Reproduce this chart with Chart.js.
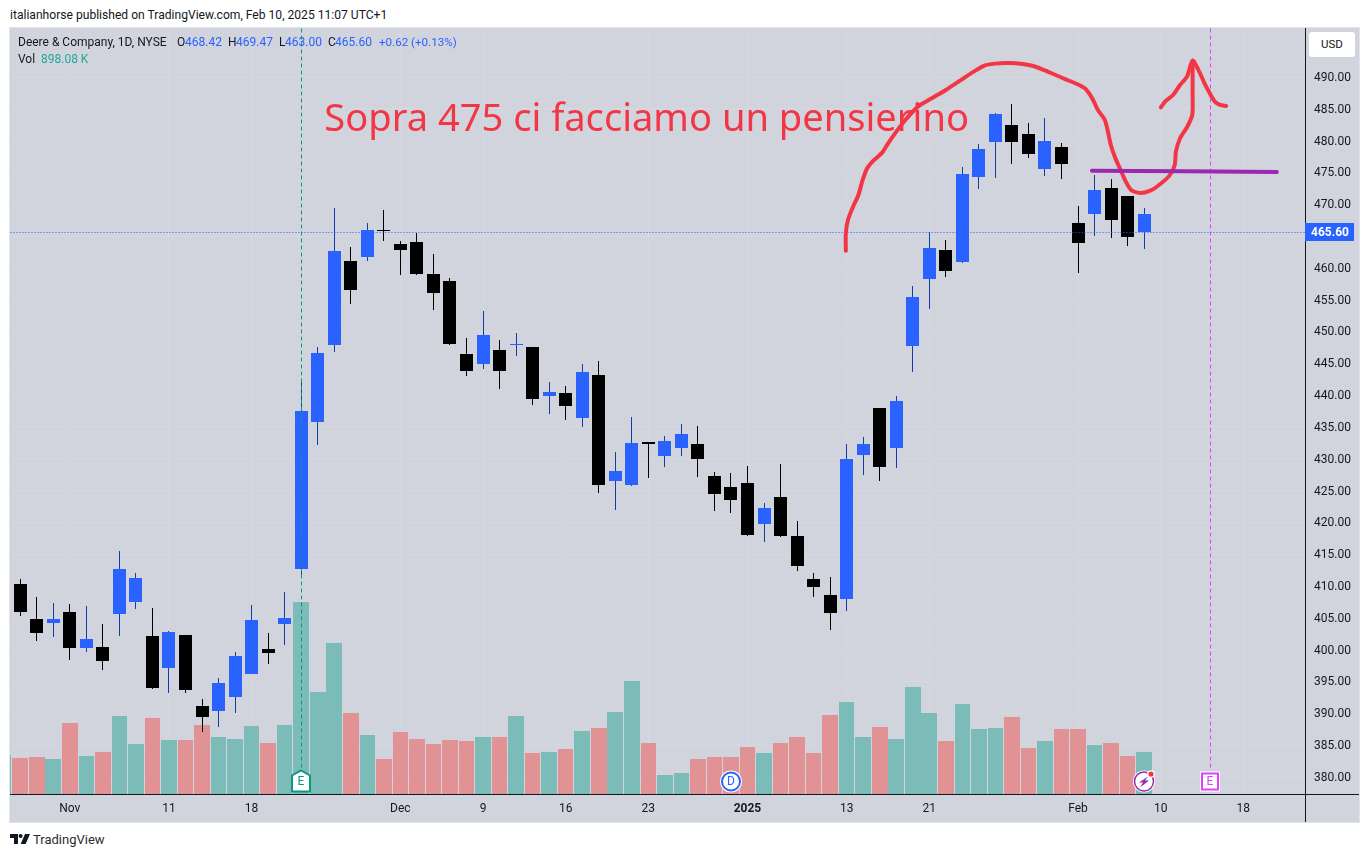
<!DOCTYPE html>
<html lang="en">
<head>
  <meta charset="UTF-8" />
  <title>Deere &amp; Company 1D</title>
  <script src="https://cdn.jsdelivr.net/npm/chart.js"></script>
  <style>
    body {
      margin: 0;
      background: #fff;
      color: #131722;
      font-family: Roboto, 'Noto Sans', sans-serif;
      font-size: 12px;
      width: 1369px;
      height: 857px;
      overflow: hidden;
      position: relative;
    }
    #published { position: absolute; left: 10px; top: 8px; font-size: 12.1px; white-space: nowrap; }
    #frame { position: absolute; left: 9px; top: 27px; width: 1349px; height: 794px; border: 1px solid #e0e3eb; }
    #marketChart { display: block; }
    .legend { position: absolute; white-space: nowrap; font-size: 12px; line-height: 14px; }
    .legend.val { color: #2962ff; }
    #usd {
      position: absolute; left: 1309px; top: 32px; width: 46px; height: 25px;
      background: #fff; border-radius: 3px; text-align: center; line-height: 25px; font-size: 11.5px;
    }
    #logo { position: absolute; left: 10px; top: 834px; }
    #brand { position: absolute; left: 33px; top: 832px; font-size: 13px; color: #2e2e2e; }
  </style>
</head>
<body>
  <div id="published">italianhorse published on TradingView.com, Feb 10, 2025 11:07 UTC+1</div>
  <div id="frame"><canvas id="marketChart" width="1349" height="794"></canvas></div>

  <span class="legend" style="left:18px;top:35px">Deere &amp; Company, 1D, NYSE</span>
  <span class="legend" style="left:177px;top:35px">O</span><span class="legend val" style="left:185px;top:35px">468.42</span>
  <span class="legend" style="left:228px;top:35px">H</span><span class="legend val" style="left:236px;top:35px">469.47</span>
  <span class="legend" style="left:279px;top:35px">L</span><span class="legend val" style="left:285px;top:35px">463.00</span>
  <span class="legend" style="left:328px;top:35px">C</span><span class="legend val" style="left:335px;top:35px">465.60</span>
  <span class="legend val" style="left:379px;top:35px;font-size:11.6px">+0.62 (+0.13%)</span>
  <span class="legend" style="left:18px;top:52px">Vol</span>
  <span class="legend" style="left:41px;top:52px;color:#26a69a">898.08 K</span>

  <div id="usd">USD</div>

  <svg id="logo" width="20" height="10" viewBox="0 0 20 10">
    <path d="M0 0h8v10H4V4H0z" fill="#131722" />
    <circle cx="10.6" cy="2" r="2" fill="#131722" />
    <path d="M15 0h5l-4.4 10h-5z" fill="#131722" />
  </svg>
  <div id="brand">TradingView</div>

  <script>
    // daily candles, first one sits just off the left edge of the pane
    const open = [410.9, 405.95, 402.65, 404.80, 400.29, 401.65, 398.25, 412.66, 411.25, 394.00, 402.75, 393.69, 389.44, 394.74, 398.98, 404.64, 399.45, 404.96,
      437.50, 446.62, 462.66, 456.53, 465.96, 465.85, 462.80, 459.04, 456.05, 448.04, 443.84, 449.45, 443.84, 448.03, 439.39, 440.49, 438.28, 443.63, 425.86, 428.07, 432.47,
      432.31, 432.78, 433.88, 429.95, 424.45, 423.51, 418.00, 422.25, 417.84, 413.13, 409.83, 405.74, 429.95, 432.31, 428.69, 439.07, 455.42, 463.13, 459.57, 474.77, 478.70,
      484.20, 479.85, 477.97, 479.96, 476.39, 463.97, 472.25, 467.54, 464.91, 468.42];
    const high = [411.6, 411.09, 408.26, 407.31, 407.16, 406.84, 404.01, 415.49, 412.03, 406.48, 402.91, 402.28, 392.22, 395.52, 399.61, 407.00, 402.60, 409.04,
      442.37, 447.57, 469.37, 463.24, 467.06, 469.10, 464.20, 465.44, 462.18, 458.41, 448.98, 453.22, 448.66, 449.76, 447.56, 442.06, 441.43, 444.89, 445.36, 431.05, 436.56,
      432.62, 433.57, 435.45, 435.14, 427.91, 427.75, 428.85, 423.03, 429.17, 420.20, 412.03, 411.40, 432.31, 433.41, 437.97, 439.86, 457.15, 465.65, 464.39, 475.87, 479.43,
      484.31, 485.77, 482.79, 483.57, 479.64, 469.74, 474.61, 473.98, 471.31, 469.47];
    const low = [405.5, 405.27, 401.34, 401.97, 398.35, 399.61, 396.78, 402.13, 406.37, 393.85, 393.16, 393.16, 387.08, 387.82, 390.02, 396.20, 397.72, 400.71,
      411.35, 432.15, 446.78, 454.33, 461.13, 464.20, 458.90, 458.90, 453.38, 447.88, 443.05, 444.16, 440.96, 446.15, 438.44, 437.03, 436.08, 434.98, 424.61, 421.93, 425.71,
      426.96, 428.69, 430.42, 427.12, 421.77, 421.46, 417.85, 416.90, 417.70, 412.34, 408.25, 403.06, 406.05, 427.44, 426.49, 428.54, 443.63, 453.59, 458.63, 460.72, 472.46,
      474.19, 476.34, 477.28, 474.45, 474.03, 459.20, 465.02, 464.71, 463.45, 463.00];
    const close = [406.2, 410.30, 404.80, 404.17, 405.90, 400.29, 400.40, 405.64, 407.52, 402.13, 397.15, 402.28, 391.12, 390.39, 392.59, 396.20, 400.08, 404.06,
      412.66, 435.77, 447.88, 461.09, 461.76, 465.95, 463.75, 464.07, 459.04, 457.94, 446.46, 444.89, 447.09, 447.95, 447.56, 439.86, 440.33, 436.40, 443.16, 426.49, 425.86,
      432.62, 430.42, 431.68, 432.31, 427.28, 425.55, 426.18, 419.73, 423.98, 417.84, 411.08, 408.57, 407.94, 430.58, 437.97, 431.68, 447.72, 458.31, 462.82, 460.98, 474.35,
      479.85, 482.47, 481.06, 475.61, 479.01, 467.06, 468.53, 472.57, 471.31, 465.60];
    // volume in thousands, 1 = green bar
    const volume = [841, 777, 798, 755, 1526, 820, 905, 1676, 1076, 1633, 1162, 1162, 1483, 1226, 1183, 1462, 1098, 1483, 4115, 2189, 3238, 1740, 1269, 755, 1333, 1183, 1076, 1162,
      1141, 1226, 1226, 1676, 884, 905, 969, 1355, 1419, 1761, 2425, 1098, 413, 456, 755, 798, 798, 1012, 884, 1098, 1226, 884, 1697, 1975, 1226, 1440, 1183, 2296, 1740, 1141,
      1932, 1397, 1419, 1654, 991, 1141, 1397, 1397, 1055, 1098, 820, 898.08];
    const volumeUp = [1, 0, 0, 1, 0, 1, 0, 1, 1, 0, 1, 0, 0, 1, 1, 1, 0, 1, 1, 1, 1, 0, 1, 0, 0, 0, 0, 0, 0, 1, 0, 1, 0, 1, 0, 1, 0, 1, 1, 0, 1, 1, 0, 0, 0, 0, 1, 0, 0, 0, 0, 1, 1, 0, 1,
      1, 1, 0, 1, 1, 1, 0, 0, 1, 0, 0, 1, 0, 0, 1];

    const timeTicks = [3, 9, 14, 23, 28, 33, 38, 44, 50, 55, 64, 69, 74];
    const timeLabels = ['Nov', '11', '18', 'Dec', '9', '16', '23', '2025', '13', '21', 'Feb', '10', '18'];
    const priceTicks = [380, 385, 390, 395, 400, 405, 410, 415, 420, 425, 430, 435, 440, 445, 450, 455, 460, 465, 470, 475, 480, 485, 490];
    const lastClose = 465.60;
    const earningsPast = 17;
    const earningsNext = 72;
    const dividend = 43;
    const flash = 68;

    // hand drawn annotations
    const curveX = [49.95, 49.95, 50.08, 50.39, 50.71, 50.97, 51.24, 51.56, 52.15, 52.51, 52.93, 53.46, 54.31, 55.15, 56.00, 56.85, 57.69, 58.33, 58.96, 59.81, 60.65, 61.29, 62.13,
      63.19, 63.93, 64.46, 64.88, 65.20, 65.62, 65.83, 65.98, 66.26, 66.57, 66.89, 67.21, 67.74, 68.37, 68.90, 69.53, 69.85, 69.92, 70.17, 70.59, 70.91, 70.93, 70.93];
    const curveY = [462.71, 465.44, 467.54, 469.63, 471.47, 473.83, 475.66, 476.71, 478.12, 479.59, 481.16, 482.98, 485.36, 486.67, 487.98, 489.44, 490.86, 491.80, 492.12, 492.22, 492.06, 491.75, 490.91,
      489.71, 488.92, 488.13, 486.56, 484.83, 483.26, 481.16, 479.33, 477.23, 475.40, 473.56, 472.25, 471.78, 472.15, 473.04, 474.51, 476.18, 478.28, 480.38, 482.11, 484.05, 487.45, 492.59];
    const arrowX = [69.01, 69.32, 69.75, 70.17, 70.59, 70.93, 71.33, 71.65, 71.97, 72.28, 72.60, 72.96];
    const arrowY = [485.25, 486.30, 487.19, 488.76, 490.07, 492.59, 490.86, 489.02, 487.45, 486.14, 485.62, 485.46];
    const levelX = [64.84, 76.03];
    const levelY = [475.29, 475.08];
    const noteText = 'Sopra 475 ci facciamo un pensierino';
    const noteX = 18.4;
    const noteY = 481.45;

    const BLUE = '#2962ff';
    const sessions = open.map((_, i) => i - 1);
    const points = (xs, ys) => xs.map((x, i) => ({ x, y: ys[i] }));

    const lineSet = (data, color, width, order, dash) => ({
      type: 'line',
      data,
      borderColor: color,
      borderWidth: width,
      borderDash: dash || [],
      borderCapStyle: dash ? 'butt' : 'round',
      borderJoinStyle: 'round',
      pointRadius: 0,
      tension: dash ? 0 : 0.25,
      order
    });

    const barSet = (data, colors, thickness, order, axis) => ({
      type: 'bar',
      data,
      backgroundColor: colors,
      barThickness: thickness,
      grouped: false,
      inflateAmount: 0,
      yAxisID: axis,
      order
    });

    const PRICE_TOP = 497.72;
    const PRICE_BOTTOM = 377.28;
    const isBlue = i => close[i] < open[i];

    // keep bars and guide lines on whole pixels like the original
    const snapMarks = {
      id: 'snapMarks',
      beforeDatasetsDraw(chart) {
        chart.getSortedVisibleDatasetMetas().forEach(meta => {
          if (meta.type === 'line') {
            if (!chart.data.datasets[meta.index].borderDash.length) return;
            meta.data.forEach(p => {
              p.x = Math.floor(p.x) + 0.5;
              p.y = Math.floor(p.y) + 0.5;
            });
            return;
          }
          meta.data.forEach(el => {
            const l = Math.round(el.x - el.width / 2);
            const r = Math.round(el.x + el.width / 2);
            el.x = (l + r) / 2;
            el.width = r - l;
            el.y = Math.round(el.y);
            el.base = Math.round(el.base);
            if (el.y === el.base) el.y -= 1;
          });
        });
      }
    };

    function badgeText(ctx, text, x, y, color) {
      ctx.fillStyle = color;
      ctx.font = '12px Roboto';
      ctx.textAlign = 'center';
      ctx.textBaseline = 'middle';
      ctx.fillText(text, x, y + 0.5);
    }

    const overlay = {
      id: 'overlay',
      afterDraw(chart) {
        const { ctx, chartArea: a, scales: { x, y } } = chart;
        const w = chart.width, h = chart.height;
        ctx.save();

        // note
        ctx.fillStyle = '#f23645';
        ctx.font = '38.1px "Noto Sans"';
        ctx.textAlign = 'left';
        ctx.textBaseline = 'alphabetic';
        ctx.fillText(noteText, x.getPixelForValue(noteX), y.getPixelForValue(noteY));

        // axis lines running past the pane
        ctx.fillStyle = '#131722';
        ctx.fillRect(a.left, Math.round(a.bottom), w - a.left, 1);
        ctx.fillRect(Math.round(a.right), 0, 1, h);

        // last price tag
        const py = Math.round(y.getPixelForValue(lastClose));
        ctx.fillStyle = BLUE;
        ctx.fillRect(a.right, py - 9, 49, 18);
        ctx.fillStyle = '#fff';
        ctx.font = 'bold 12px Roboto';
        ctx.textAlign = 'center';
        ctx.textBaseline = 'middle';
        ctx.fillText(lastClose.toFixed(2), a.right + 25, py + 1);

        // event badges along the bottom
        const cy = a.bottom - 12.5;
        let bx = Math.round(x.getPixelForValue(earningsPast));
        ctx.beginPath();
        ctx.moveTo(bx, cy - 11);
        ctx.lineTo(bx + 9, cy - 6);
        ctx.lineTo(bx + 9, cy + 10);
        ctx.lineTo(bx - 9, cy + 10);
        ctx.lineTo(bx - 9, cy - 6);
        ctx.closePath();
        ctx.fillStyle = '#fff';
        ctx.fill();
        ctx.strokeStyle = '#089981';
        ctx.lineWidth = 2;
        ctx.stroke();
        badgeText(ctx, 'E', bx, cy, '#089981');

        bx = Math.round(x.getPixelForValue(dividend));
        ctx.beginPath();
        ctx.arc(bx, cy, 11, 0, Math.PI * 2);
        ctx.fillStyle = '#fff';
        ctx.fill();
        ctx.beginPath();
        ctx.arc(bx, cy, 9, 0, Math.PI * 2);
        ctx.strokeStyle = BLUE;
        ctx.lineWidth = 2;
        ctx.stroke();
        badgeText(ctx, 'D', bx, cy, BLUE);

        bx = Math.round(x.getPixelForValue(flash));
        ctx.beginPath();
        ctx.arc(bx, cy, 11, 0, Math.PI * 2);
        ctx.fillStyle = '#fff';
        ctx.fill();
        ctx.beginPath();
        ctx.arc(bx, cy, 9.5, 0, Math.PI * 2);
        ctx.strokeStyle = '#9c27b0';
        ctx.lineWidth = 1.5;
        ctx.stroke();
        ctx.beginPath();
        ctx.moveTo(bx + 4, cy - 5);
        ctx.lineTo(bx - 5, cy + 1);
        ctx.lineTo(bx - 1, cy + 1);
        ctx.lineTo(bx - 4, cy + 6);
        ctx.lineTo(bx + 5, cy - 1);
        ctx.lineTo(bx + 1, cy - 1);
        ctx.closePath();
        ctx.fillStyle = '#9c27b0';
        ctx.fill();
        ctx.beginPath();
        ctx.arc(bx + 7, cy - 7.5, 3.8, 0, Math.PI * 2);
        ctx.fillStyle = '#fff';
        ctx.fill();
        ctx.beginPath();
        ctx.arc(bx + 7, cy - 7.5, 2.6, 0, Math.PI * 2);
        ctx.fillStyle = '#f23645';
        ctx.fill();

        bx = Math.round(x.getPixelForValue(earningsNext));
        ctx.fillStyle = '#fff';
        ctx.fillRect(bx - 10, cy - 10, 20, 20);
        ctx.strokeStyle = '#e040fb';
        ctx.lineWidth = 2;
        ctx.strokeRect(bx - 8, cy - 8, 16, 16);
        badgeText(ctx, 'E', bx, cy, '#e040fb');

        ctx.restore();
      }
    };

    new Chart(document.getElementById('marketChart'), {
      data: {
        datasets: [
          barSet(sessions.map((x, i) => ({ x, y: volume[i] })), volumeUp.map(u => u ? '#7bbcb9' : '#e09294'), 15.6, 6, 'yVol'),
          barSet(sessions.map((x, i) => ({ x, y: [low[i], high[i]] })), sessions.map((_, i) => isBlue(i) ? '#0d3fa6' : '#000'), 1, 5, 'y'),
          barSet(sessions.map((x, i) => ({ x, y: [Math.min(open[i], close[i]), Math.max(open[i], close[i])] })), sessions.map((_, i) => isBlue(i) ? BLUE : '#000'), 13, 4, 'y'),
          lineSet(points([-0.617, 77.73], [lastClose, lastClose]), BLUE, 1, 3, [1, 2]),
          lineSet(points([earningsPast, earningsPast], [PRICE_TOP, 381]), '#089981', 1, 3, [4, 3]),
          lineSet(points([earningsNext, earningsNext], [PRICE_TOP, 381]), '#e040fb', 1, 3, [4, 3]),
          lineSet(points(curveX, curveY), '#f23645', 4, 2),
          lineSet(points(arrowX, arrowY), '#f23645', 4, 2),
          lineSet(points(levelX, levelY), '#9c27b0', 4, 1)
        ]
      },
      options: {
        responsive: false,
        animation: false,
        events: [],
        layout: { padding: 0, autoPadding: false },
        plugins: {
          legend: { display: false },
          title: { display: false },
          tooltip: { enabled: false }
        },
        scales: {
          x: {
            type: 'linear',
            offset: false,
            min: -0.617,
            max: 77.73,
            afterBuildTicks: s => { s.ticks = timeTicks.map(value => ({ value })); },
            afterFit: s => { s.height = 28; s.paddingLeft = 0; s.paddingRight = 0; },
            ticks: {
              autoSkip: false,
              maxRotation: 0,
              padding: 8,
              color: '#131722',
              font: c => ({ family: 'Roboto', size: 12, weight: timeLabels[c.index] === '2025' ? 'bold' : 'normal' }),
              callback: (v, i) => timeLabels[i]
            },
            grid: { color: '#d5d8e0', drawTicks: false, offset: false },
            border: { display: false }
          },
          y: {
            position: 'right',
            min: PRICE_BOTTOM,
            max: PRICE_TOP,
            afterBuildTicks: s => { s.ticks = priceTicks.map(value => ({ value })); },
            afterFit: s => { s.width = 54; s.paddingTop = 0; s.paddingBottom = 0; },
            ticks: {
              autoSkip: false,
              padding: 9,
              labelOffset: 1,
              color: '#131722',
              font: { family: 'Roboto', size: 12 },
              callback: v => Number(v).toFixed(2)
            },
            grid: { color: '#d5d8e0', drawTicks: false },
            border: { display: false }
          },
          yVol: {
            display: false,
            min: 0,
            max: 16392
          }
        }
      },
      plugins: [snapMarks, overlay]
    });

    document.getElementById('marketChart').style.background = '#d1d4dc';
  </script>
</body>
</html>
